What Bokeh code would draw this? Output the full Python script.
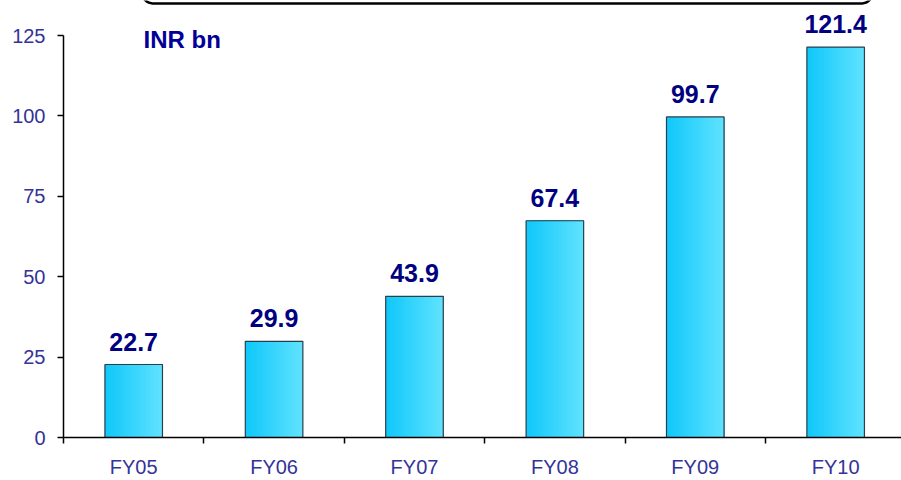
from bokeh.plotting import figure
from bokeh.models import Range1d, FixedTicker, ColumnDataSource, BoxAnnotation, Label
from bokeh.core.properties import value
from bokeh.embed import file_html
from bokeh.resources import INLINE

categories = ["FY05", "FY06", "FY07", "FY08", "FY09", "FY10"]
values = [22.7, 29.9, 43.9, 67.4, 99.7, 121.4]
labels = ["22.7", "29.9", "43.9", "67.4", "99.7", "121.4"]
y_ticks = [0, 25, 50, 75, 100, 125]
unit_label = "INR bn"

FONT = "Liberation Sans"
BAR_W = 0.41
N_STRIPS = 30
C_LEFT = (16, 200, 250)
C_RIGHT = (96, 226, 255)

centers = [i + 0.5 for i in range(len(categories))]

p = figure(width=901, height=480, output_backend="svg", toolbar_location=None,
           x_range=Range1d(0, 5.969), y_range=Range1d(0, 135.9),
           min_border_left=63, min_border_right=0, min_border_top=0, min_border_bottom=43)
p.outline_line_color = None
p.xgrid.visible = False
p.ygrid.visible = False
p.background_fill_color = "white"
p.border_fill_color = "white"

# gradient bars: overlapping strips, each running to the right edge of the bar
strip_w = BAR_W / N_STRIPS
for k in range(N_STRIPS):
    t = k / (N_STRIPS - 1)
    col = "#%02x%02x%02x" % tuple(int(round(a + (b - a) * t)) for a, b in zip(C_LEFT, C_RIGHT))
    w = BAR_W - strip_w * k
    xs = [c + BAR_W / 2 - w / 2 for c in centers]
    p.vbar(x=xs, top=values, bottom=0, width=w, fill_color=col, line_color=None)

src = ColumnDataSource(dict(x=centers, top=values, label=labels))
p.vbar(x="x", top="top", bottom=0, width=BAR_W, source=src, fill_color=None,
       line_color="#2a3f4a", line_width=1.2)

p.text(x="x", y="top", text="label", source=src, text_align="center",
       text_baseline="alphabetic", y_offset=-23, text_font=value(FONT),
       text_font_style="bold", text_font_size="25px", text_color="#000080")

p.add_layout(Label(x=0.57, y=119.7, text=unit_label, text_font=FONT,
                   text_font_style="bold", text_font_size="24px", text_color="#000099"))

p.add_layout(BoxAnnotation(left=0.563, right=5.76, bottom=135.0, top=150,
                           fill_color=None, fill_alpha=0, line_color="black",
                           line_alpha=1.0, line_width=2.5, border_radius=10))

# y axis
ya = p.yaxis[0]
ya.ticker = FixedTicker(ticks=y_ticks)
ya.bounds = (0, 125)
ya.major_tick_out = 6
ya.major_tick_in = 0
ya.minor_tick_out = 0
ya.minor_tick_in = 0
ya.axis_line_width = 1.5
ya.axis_line_color = "black"
ya.major_tick_line_color = "black"
ya.major_tick_line_width = 1.5
ya.major_label_standoff = 12
ya.major_label_text_font = FONT
ya.major_label_text_font_size = "20px"
ya.major_label_text_color = "#333399"

# x axis
xa = p.xaxis[0]
xa.ticker = FixedTicker(ticks=centers, minor_ticks=list(range(len(categories) + 1)))
xa.major_label_overrides = {c: n for c, n in zip(centers, categories)}
xa.major_tick_out = 0
xa.major_tick_in = 0
xa.minor_tick_out = 6
xa.minor_tick_in = 0
xa.minor_tick_line_color = "black"
xa.minor_tick_line_width = 1.5
xa.axis_line_width = 1.5
xa.axis_line_color = "black"
xa.major_label_standoff = 12
xa.major_label_text_font = FONT
xa.major_label_text_font_size = "20px"
xa.major_label_text_color = "#333399"

open("out.html", "w").write(file_html(p, INLINE))
